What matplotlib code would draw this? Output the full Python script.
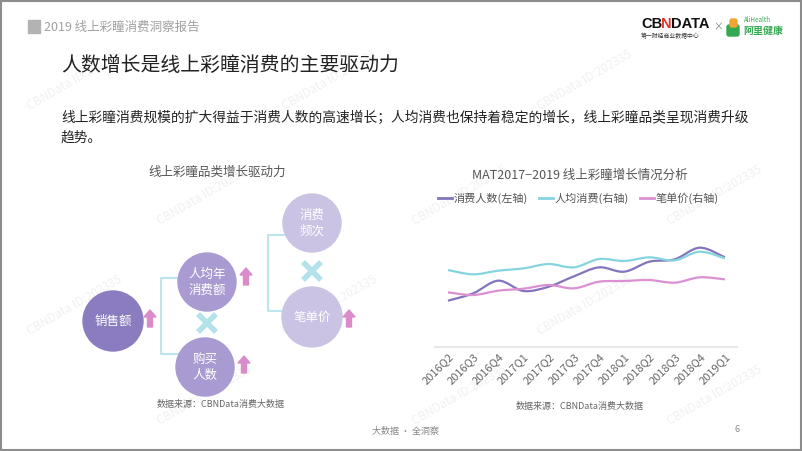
import matplotlib.pyplot as plt
from matplotlib.patches import Circle, Rectangle, Polygon, PathPatch, FancyBboxPatch
from matplotlib.path import Path
from matplotlib.lines import Line2D

plt.rcParams['font.family'] = ['Noto Sans CJK SC', 'DejaVu Sans']

# Data (arbitrary index units)
quarters = ['2016Q2', '2016Q3', '2016Q4', '2017Q1', '2017Q2', '2017Q3',
            '2017Q4', '2018Q1', '2018Q2', '2018Q3', '2018Q4', '2019Q1']
buyers = [139, 161, 199, 168, 181, 212, 239, 226, 256, 263, 298, 269]
spend_per_buyer = [231, 218, 229, 236, 249, 239, 264, 258, 269, 260, 286, 266]
price_per_order = [164, 156, 169, 175, 186, 176, 196, 198, 201, 193, 209, 203]
series_names = ['消费人数(左轴)', '人均消费(右轴)', '笔单价(右轴)']
series_colors = ['#8474bd', '#85d4df', '#dc8fd2']

W, H = 802, 451
fig = plt.figure(figsize=(W / 100, H / 100), dpi=100)
fig.patch.set_facecolor('white')

# Slide background in pixel coordinates
bg = fig.add_axes([0, 0, 1, 1])
bg.set_xlim(0, W)
bg.set_ylim(H, 0)
bg.axis('off')

# Watermarks
for row, y in enumerate([80, 195, 305, 395]):
    shift = 0 if row % 2 == 0 else 130
    for x in [75, 330, 585]:
        bg.text(x + shift, y, 'CBNData ID:202335', fontsize=8.5, color='#f1f1f1',
                rotation=30, ha='center', va='center', zorder=0)

# Header
bg.add_patch(Rectangle((28, 20), 12, 13, color='#b3b3b3'))
bg.text(44, 27, '2019 线上彩瞳消费洞察报告', fontsize=9, color='#a0a0a0', va='center')
bg.text(61, 65, '人数增长是线上彩瞳消费的主要驱动力', fontsize=14.3, fontweight='light',
        color='#222222', va='center')
bg.text(61, 118, '线上彩瞳消费规模的扩大得益于消费人数的高速增长；人均消费也保持着稳定的增长，线上彩瞳品类呈现消费升级',
        fontsize=9.9, color='#222222', va='center')
bg.text(61, 138, '趋势。', fontsize=9.9, color='#222222', va='center')

# Logo
logo_font = ['Liberation Sans', 'DejaVu Sans']
bg.text(641, 24, 'CB', fontsize=10.5, fontweight='bold', color='#111111', va='center',
        family=logo_font)
bg.text(660.5, 24, 'N', fontsize=10.5, fontweight='bold', color='#e0352b', va='center',
        family=logo_font)
bg.text(670.5, 24, 'DATA', fontsize=10.5, fontweight='bold', color='#111111', va='center',
        family=logo_font)
bg.text(641, 36, '第一财经商业数据中心', fontsize=4.2, color='#333333', va='center')
bg.text(718, 27, '×', fontsize=7, color='#888888', va='center', ha='center')
bg.add_patch(FancyBboxPatch((727, 25), 12, 11, boxstyle='round,pad=0,rounding_size=2',
                            color='#36a852'))
bg.add_patch(FancyBboxPatch((730, 19), 7, 8, boxstyle='round,pad=0,rounding_size=2',
                            color='#f2a530'))
bg.text(744, 20, 'AliHealth', fontsize=4.5, color='#36a852', va='center')
bg.text(743, 31, '阿里健康', fontsize=7.2, fontweight='bold', color='#36a852', va='center')

# Left diagram
bg.text(217, 172, '线上彩瞳品类增长驱动力', fontsize=9, color='#555555', ha='center', va='center')
circles = [((113, 321), 30, '#8b7cbf', '销售额'),
           ((207, 282), 29, '#a99bd1', '人均年\n消费额'),
           ((205, 367), 29, '#a99bd1', '购买\n人数'),
           ((312, 223), 29, '#cbc3e3', '消费\n频次'),
           ((312, 317), 30, '#cbc3e3', '笔单价')]
for (cx, cy), r, col, label in circles:
    bg.add_patch(Circle((cx, cy), r, color=col, zorder=2))
    bg.text(cx, cy, label, fontsize=9, color='white', ha='center', va='center',
            linespacing=1.3, zorder=3)

bracket_col = '#bde6ec'
for x0, y0, y1, x1 in [(161, 278, 354, 178), (268, 235, 311, 287)]:
    bg.plot([x1, x0, x0, x1], [y0, y0, y1, y1], color=bracket_col, lw=1.5, zorder=1)

for cx, cy in [(207, 323), (312, 271)]:
    d = 7
    bg.plot([cx - d, cx + d], [cy - d, cy + d], color='#b3e2ea', lw=4, zorder=1)
    bg.plot([cx - d, cx + d], [cy + d, cy - d], color='#b3e2ea', lw=4, zorder=1)


def up_arrow(x, y):
    # y is the arrow tip
    pts = [(x, y), (x + 6, y + 7), (x + 2.5, y + 7), (x + 2.5, y + 17),
           (x - 2.5, y + 17), (x - 2.5, y + 7), (x - 6, y + 7)]
    bg.add_patch(Polygon(pts, closed=True, color='#d98cc9', zorder=2))


for ax_, ay_ in [(150, 310), (246, 268), (244, 356), (349, 310)]:
    up_arrow(ax_, ay_)

bg.text(221, 405, '数据来源：CBNData消费大数据', fontsize=6.5, color='#666666',
        ha='center', va='center')

# Footer and border
bg.text(372, 431, '大数据 · 全洞察', fontsize=6.5, color='#888888', va='center')
bg.text(737, 430, '6', fontsize=6.5, color='#888888', va='center', ha='center')
bg.add_patch(Rectangle((0.75, 0.75), W - 1.5, H - 1.5, fill=False, edgecolor='#8c8c8c', lw=1.5))

# Right line chart
bg.text(580, 175, 'MAT2017−2019 线上彩瞳增长情况分析', fontsize=9, color='#555555',
        ha='center', va='center')
bg.text(580, 406, '数据来源：CBNData消费大数据', fontsize=6.5, color='#666666',
        ha='center', va='center')

ax = fig.add_axes([435 / W, (H - 347) / H, 302 / W, 133.3 / H])
ax.set_facecolor('none')
ax2 = ax.twinx()
for a in (ax, ax2):
    a.set_xlim(-0.516, 11.48)
    a.set_ylim(0, 400)
    a.set_yticks([])
    for s in ['top', 'left', 'right']:
        a.spines[s].set_visible(False)
    a.spines['bottom'].set_color('#e8e8e8')
    a.spines['bottom'].set_linewidth(1.5)


def smooth_path(xs, ys):
    n = len(xs)
    verts = [(xs[0], ys[0])]
    codes = [Path.MOVETO]
    for i in range(n - 1):
        p0 = max(i - 1, 0)
        p3 = min(i + 2, n - 1)
        c1 = (xs[i] + (xs[i + 1] - xs[p0]) / 6, ys[i] + (ys[i + 1] - ys[p0]) / 6)
        c2 = (xs[i + 1] - (xs[p3] - xs[i]) / 6, ys[i + 1] - (ys[p3] - ys[i]) / 6)
        verts += [c1, c2, (xs[i + 1], ys[i + 1])]
        codes += [Path.CURVE4] * 3
    return Path(verts, codes)


xs = list(range(len(quarters)))
ax.add_patch(PathPatch(smooth_path(xs, buyers), fill=False, edgecolor=series_colors[0], lw=1.6))
ax2.add_patch(PathPatch(smooth_path(xs, spend_per_buyer), fill=False, edgecolor=series_colors[1], lw=1.6))
ax2.add_patch(PathPatch(smooth_path(xs, price_per_order), fill=False, edgecolor=series_colors[2], lw=1.6))

ax.set_xticks(xs)
ax.set_xticklabels(quarters, rotation=45, ha='right', va='top', rotation_mode='anchor',
                   fontsize=8, color='#666666')
ax.tick_params(axis='x', length=0, pad=3)
ax2.tick_params(axis='x', length=0)

handles = [Line2D([], [], color=c, lw=2) for c in series_colors]
ax2.legend(handles, series_names, ncol=3, loc='center', frameon=False,
           bbox_to_anchor=(578 / W, (H - 198) / H), bbox_transform=fig.transFigure,
           fontsize=8, handlelength=1.3, handletextpad=0.1, columnspacing=1.0,
           labelcolor='#555555')

fig.savefig('out.png', dpi=100)
